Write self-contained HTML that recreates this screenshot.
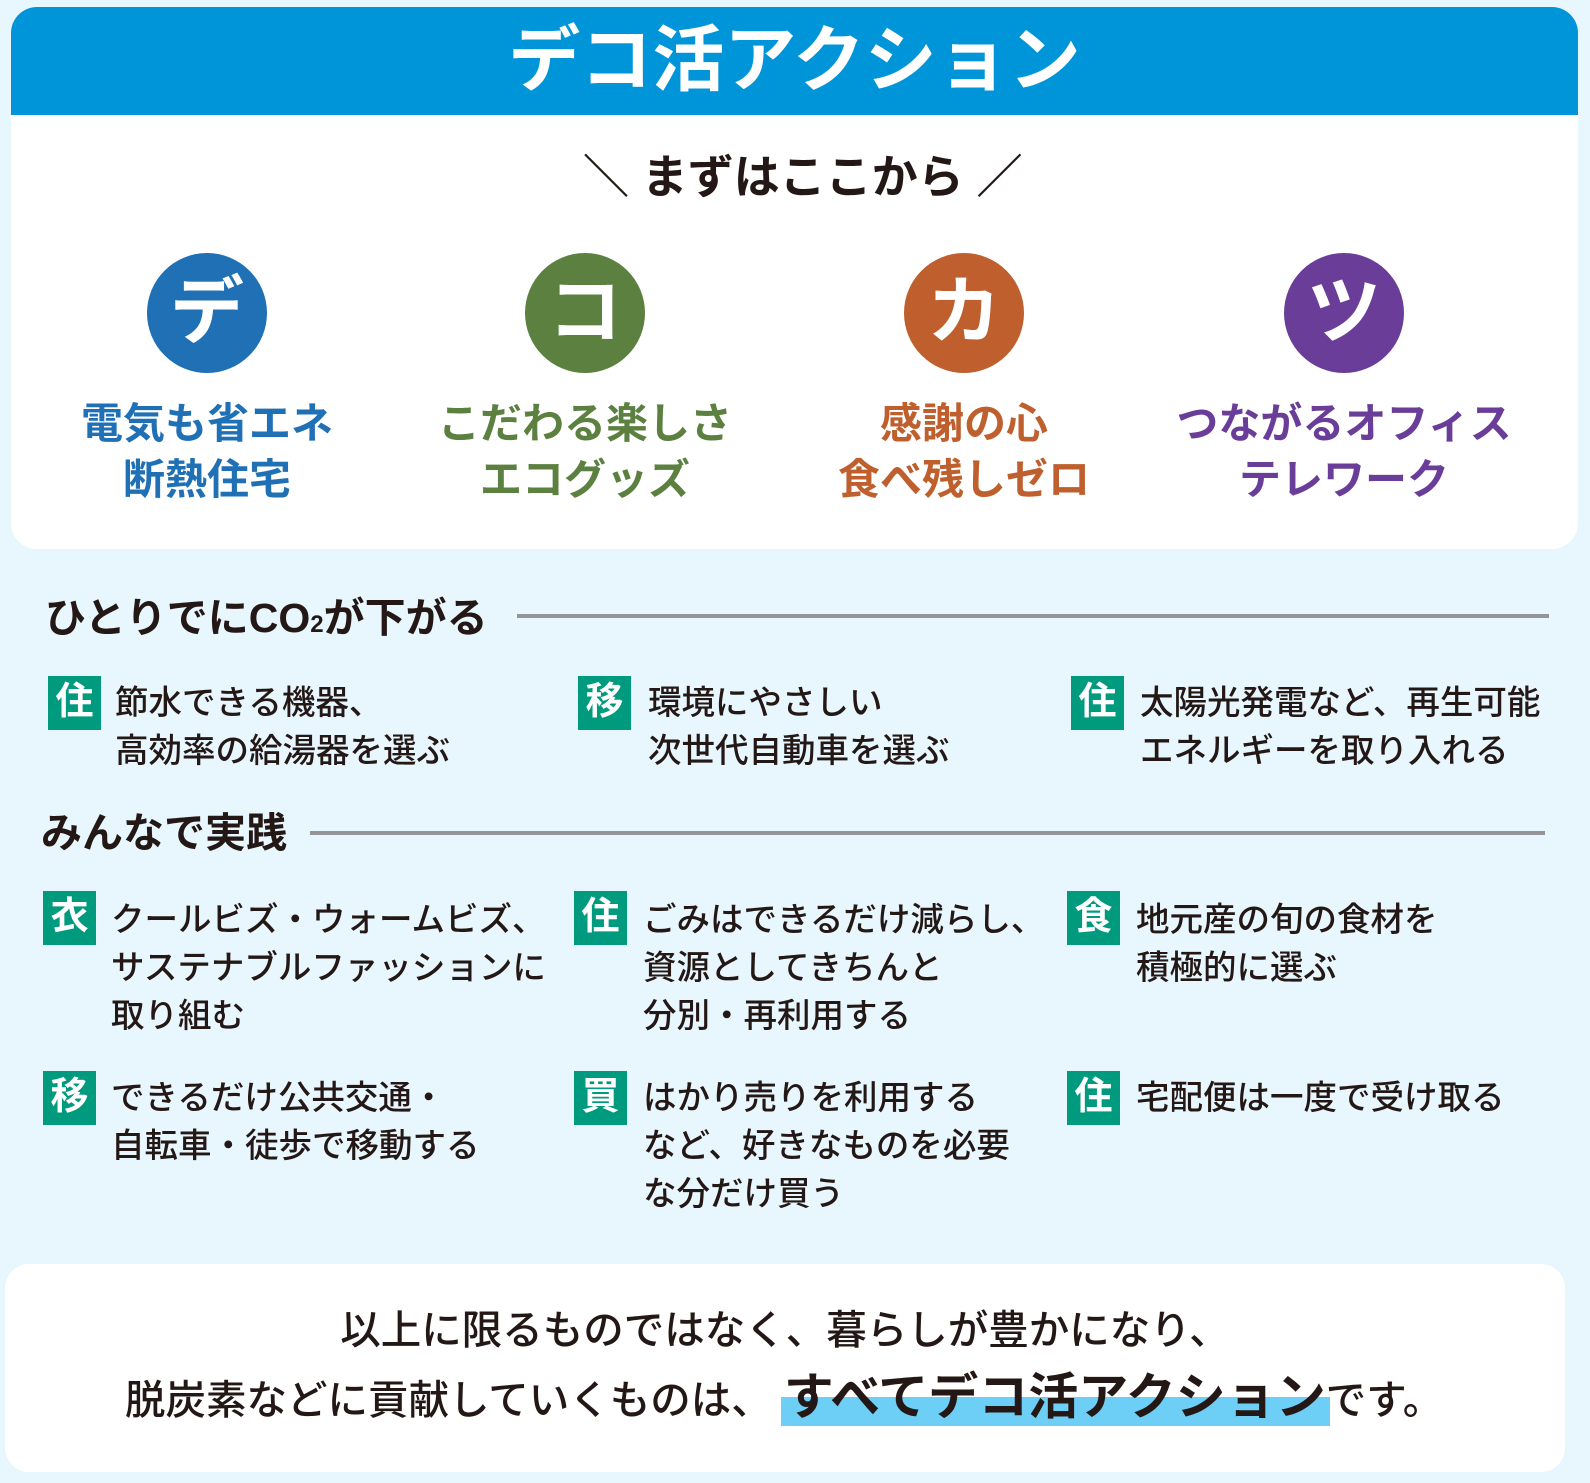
<!DOCTYPE html>
<html><head><meta charset="utf-8"><style>
*{margin:0;padding:0;box-sizing:border-box}
body{width:1590px;height:1483px;background:#e8f6fd;position:relative;overflow:hidden;font-family:"Liberation Sans","Noto Sans CJK JP",sans-serif;color:#231815}
.a{position:absolute;white-space:nowrap}
.card{position:absolute;left:11px;top:7px;width:1567px;height:542px;background:#fff;border-radius:26px;overflow:hidden}
.hdr{position:absolute;left:0;top:0;width:100%;height:108px;background:#0095d9;color:#fff;font-weight:bold;font-size:72px;letter-spacing:0px;text-align:center;line-height:108px}
.c{position:absolute;width:120px;height:120px;border-radius:50%;color:#fff;font-weight:bold;font-size:74px;text-align:center;line-height:118px;top:246px}
.lb{position:absolute;top:389px;width:380px;text-align:center;font-weight:bold;font-size:42px;line-height:56px}
.h{font-weight:bold;font-size:41px;line-height:50px}
.ln{position:absolute;height:4px;background:#939598}
.b{position:absolute;width:53px;height:54px;background:#009a7e;color:#fff;font-weight:bold;font-size:38px;text-align:center;line-height:53px}
.t{position:absolute;font-size:33.5px;line-height:48px;white-space:nowrap;font-weight:500}
</style></head><body>
<div class="card">
<div class="hdr">デコ活アクション</div>
<div class="a" style="left:572px;top:140px;font-size:46px;font-weight:bold;line-height:60px">＼ まずはここから ／</div>
<div class="c" style="left:136px;background:#1f70b5">デ</div>
<div class="c" style="left:514px;background:#5b8040">コ</div>
<div class="c" style="left:893px;background:#bf5f2e">カ</div>
<div class="c" style="left:1273px;background:#6a3e98">ツ</div>
<div class="lb" style="left:6px;color:#1f70b5">電気も省エネ<br>断熱住宅</div>
<div class="lb" style="left:384px;color:#5b8040">こだわる楽しさ<br>エコグッズ</div>
<div class="lb" style="left:763px;color:#bf5f2e">感謝の心<br>食べ残しゼロ</div>
<div class="lb" style="left:1143px;color:#6a3e98">つながるオフィス<br>テレワーク</div>
</div>

<div class="a h" style="left:45px;top:593px">ひとりでにCO<span style="font-size:24px">2</span>が下がる</div>
<div class="ln" style="left:517px;top:614px;width:1032px"></div>

<div class="b" style="left:48px;top:676px">住</div>
<div class="t" style="left:115px;top:680px">節水できる機器、<br>高効率の給湯器を選ぶ</div>
<div class="b" style="left:578px;top:676px">移</div>
<div class="t" style="left:648px;top:680px">環境にやさしい<br>次世代自動車を選ぶ</div>
<div class="b" style="left:1071px;top:676px">住</div>
<div class="t" style="left:1140px;top:680px">太陽光発電など、再生可能<br>エネルギーを取り入れる</div>

<div class="a h" style="left:41px;top:808px">みんなで実践</div>
<div class="ln" style="left:310px;top:831px;width:1235px"></div>

<div class="b" style="left:43px;top:891px">衣</div>
<div class="t" style="left:111px;top:897px">クールビズ・ウォームビズ、<br>サステナブルファッションに<br>取り組む</div>
<div class="b" style="left:574px;top:891px">住</div>
<div class="t" style="left:643px;top:897px">ごみはできるだけ減らし、<br>資源としてきちんと<br>分別・再利用する</div>
<div class="b" style="left:1067px;top:891px">食</div>
<div class="t" style="left:1136px;top:897px">地元産の旬の食材を<br>積極的に選ぶ</div>

<div class="b" style="left:43px;top:1071px">移</div>
<div class="t" style="left:111px;top:1075px">できるだけ公共交通・<br>自転車・徒歩で移動する</div>
<div class="b" style="left:574px;top:1071px">買</div>
<div class="t" style="left:643px;top:1075px">はかり売りを利用する<br>など、好きなものを必要<br>な分だけ買う</div>
<div class="b" style="left:1067px;top:1071px">住</div>
<div class="t" style="left:1136px;top:1075px">宅配便は一度で受け取る</div>

<div style="position:absolute;left:5px;top:1264px;width:1560px;height:208px;background:#fff;border-radius:24px"></div>
<div style="position:absolute;left:781px;top:1397px;width:549px;height:29px;background:#6dcff6"></div>
<div class="a" style="left:0;width:1570px;text-align:center;top:1303px;font-size:40.5px;line-height:54px;font-weight:500">以上に限るものではなく、暮らしが豊かになり、</div>
<div class="a" style="left:125px;top:1366px;font-size:40.5px;line-height:62px;font-weight:500">脱炭素などに貢献していくものは、<span style="font-size:50px;font-weight:bold;margin-left:12px">すべてデコ活アクション</span>です。</div>
</body></html>
